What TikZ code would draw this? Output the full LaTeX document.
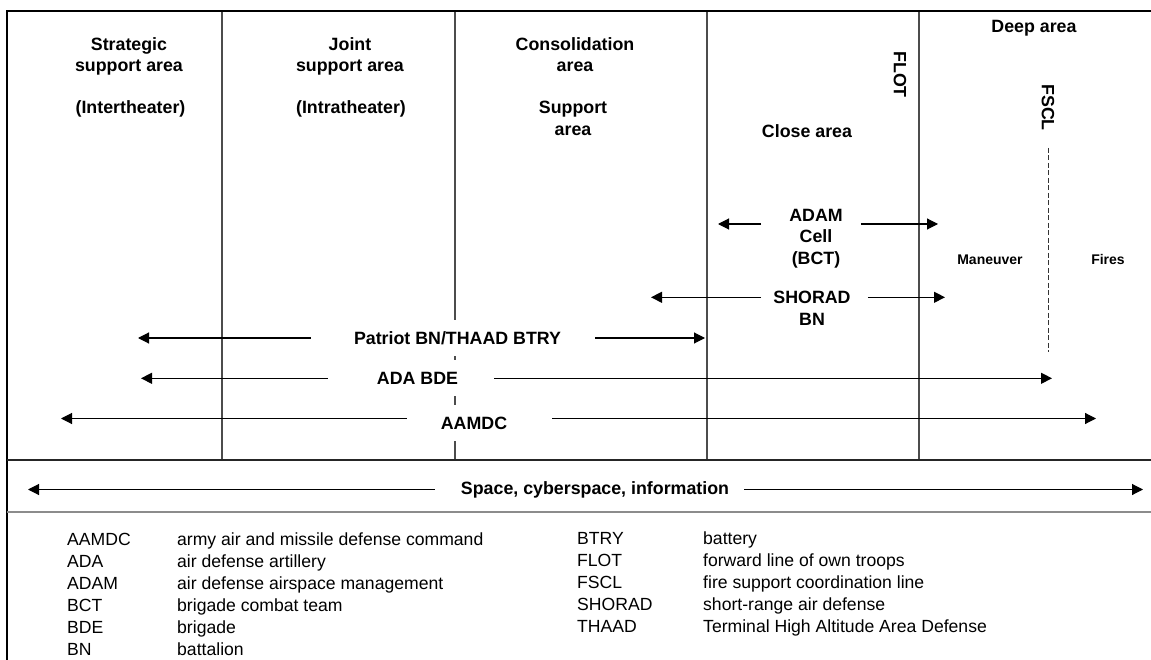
\documentclass[tikz,border=0pt]{standalone}
\usepackage{fontspec}
\setmainfont{Liberation Sans}
\usetikzlibrary{arrows.meta}

\begin{document}
\begin{tikzpicture}[x=1pt, y=-1pt, inner sep=0pt]
    \tikzstyle{zone}=[font=\bfseries\fontsize{17.8}{21.7}\selectfont, align=center]
    \tikzstyle{band}=[zone, fill=white, minimum height=36pt, inner xsep=2pt]
    \tikzstyle{sub}=[font=\bfseries\fontsize{14}{17}\selectfont]
    \tikzstyle{key}=[font=\fontsize{17.6}{22}\selectfont, anchor=base west]
    \tikzstyle{rng}=[-{Triangle[length=11pt,width=11pt]}, line width=1.1pt]
    \tikzstyle{bound}=[draw=black!70, line width=1.2pt]
    \tikzstyle{fscl}=[dash pattern=on 5pt off 2.5pt, line width=1pt, draw=black!80]

    \useasboundingbox (0,0) rectangle (1151,660);

    % area boundaries and frame
    \draw[bound] (222,11) -- (222,460);
    \draw[bound] (455,11) -- (455,460);
    \draw[bound] (707,11) -- (707,460);
    \draw[bound] (919,11) -- (919,460);
    \draw[line width=2.5pt] (7,660) -- (7,11) -- (1151,11);
    \draw[line width=1.6pt, black!85] (7,460) -- (1151,460);
    \draw[line width=2pt, black!45] (7,512) -- (1151,512);

    % area titles
    \node[zone, anchor=north] (SSA) at (129,37) {Strategic\\support area};
    \node[zone, anchor=base] (SSAx) at (130.5,114) {(Intertheater)};
    \node[zone, anchor=north] (JSA) at (350,37) {Joint\\support area};
    \node[zone, anchor=base] (JSAx) at (351,114) {(Intratheater)};
    \node[zone, anchor=north] (CON) at (575,37) {Consolidation\\area};
    \node[zone, anchor=north] (SUP) at (573,101) {Support\\area};
    \node[zone, anchor=base] (CLS) at (807,137.5) {Close area};
    \node[zone, anchor=base] (DEEP) at (1034,33) {Deep area};
    \node[zone, rotate=-90] (FLOT) at (900,74.5) {FLOT};
    \node[zone, rotate=-90] (FSCL) at (1048,107.5) {FSCL};
    \node[sub, anchor=base] (MAN) at (990,264.3) {Maneuver};
    \node[sub, anchor=base] (FIR) at (1108,264.3) {Fires};

    % units and their reach
    \node[zone, anchor=north] (ADAM) at (816,208.6) {ADAM\\Cell\\(BCT)};
    \node[zone, anchor=north] (SHO) at (812,291) {SHORAD\\BN};
    \node[band] (PAT) at (457.5,338) {Patriot BN/THAAD BTRY};
    \node[band] (ADA) at (417.5,378) {ADA BDE};
    \node[band] (AAM) at (474,423) {AAMDC};
    \node[zone] (SPC) at (595,489.5) {Space, cyberspace, information};

    \coordinate (ADAMl) at (718,224);
    \coordinate (ADAMr) at (938,224);
    \coordinate (SHOl) at (651,297.3);
    \coordinate (SHOr) at (945,297.3);
    \coordinate (PATl) at (138,338);
    \coordinate (PATr) at (705,338);
    \coordinate (ADAl) at (141,378.3);
    \coordinate (ADAr) at (1052,378.3);
    \coordinate (AAMl) at (61,418.5);
    \coordinate (AAMr) at (1096,418.5);
    \coordinate (SPCl) at (28,489.5);
    \coordinate (SPCr) at (1143,489.5);
    \coordinate (FSCLe) at (1048,352);

    \draw[rng] ([xshift=-28pt]ADAM.west |- ADAMl) -- (ADAMl);
    \draw[rng] ([xshift=18pt]ADAM.east |- ADAMr) -- (ADAMr);
    \draw[rng] ([xshift=-12pt]SHO.west |- SHOl) -- (SHOl);
    \draw[rng] ([xshift=17pt]SHO.east |- SHOr) -- (SHOr);
    \draw[rng] ([xshift=-41pt]PAT.west |- PATl) -- (PATl);
    \draw[rng] ([xshift=32pt]PAT.east |- PATr) -- (PATr);
    \draw[rng] ([xshift=-47pt]ADA.west |- ADAl) -- (ADAl);
    \draw[rng] ([xshift=34pt]ADA.east |- ADAr) -- (ADAr);
    \draw[rng] ([xshift=-32pt]AAM.west |- AAMl) -- (AAMl);
    \draw[rng] ([xshift=43pt]AAM.east |- AAMr) -- (AAMr);
    \draw[rng] ([xshift=-26pt]SPC.west |- SPCl) -- (SPCl);
    \draw[rng] ([xshift=15pt]SPC.east |- SPCr) -- (SPCr);
    \draw[fscl] ([yshift=-17pt]FSCL.east) -- (FSCLe);

    % key
    \node[key] (K1) at (67,545) {\makebox[110pt][l]{AAMDC}army air and missile defense command};
    \node[key] (K2) at (67,567) {\makebox[110pt][l]{ADA}air defense artillery};
    \node[key] (K3) at (67,589) {\makebox[110pt][l]{ADAM}air defense airspace management};
    \node[key] (K4) at (67,611) {\makebox[110pt][l]{BCT}brigade combat team};
    \node[key] (K5) at (67,633) {\makebox[110pt][l]{BDE}brigade};
    \node[key] (K6) at (67,655) {\makebox[110pt][l]{BN}battalion};
    \node[key] (K7) at (577,544) {\makebox[126pt][l]{BTRY}battery};
    \node[key] (K8) at (577,566) {\makebox[126pt][l]{FLOT}forward line of own troops};
    \node[key] (K9) at (577,588) {\makebox[126pt][l]{FSCL}fire support coordination line};
    \node[key] (K10) at (577,610) {\makebox[126pt][l]{SHORAD}short-range air defense};
    \node[key] (K11) at (577,632) {\makebox[126pt][l]{THAAD}Terminal High Altitude Area Defense};
\end{tikzpicture}
\end{document}
